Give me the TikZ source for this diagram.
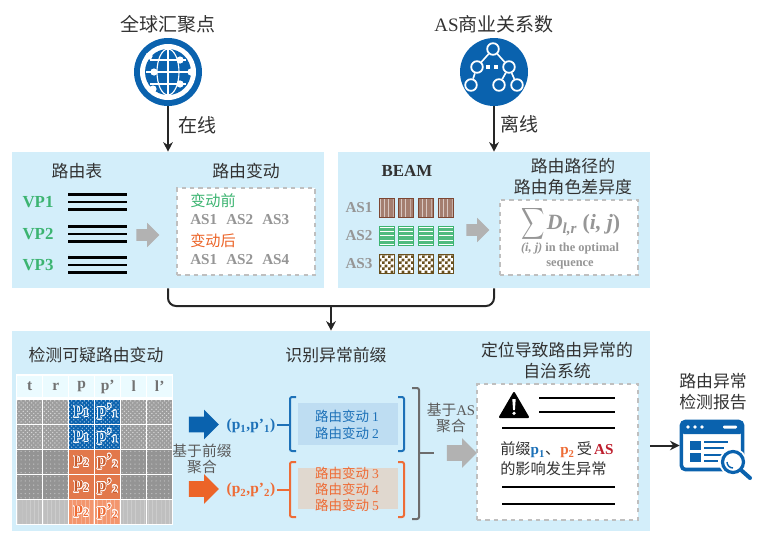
\documentclass[tikz,border=0pt]{standalone}
\usepackage{fontspec}
\usepackage[copies]{contour}
\setmainfont{Liberation Serif}
\newfontfamily\cjk{Noto Sans CJK SC}
\usetikzlibrary{arrows.meta,positioning,patterns,shapes.arrows,calc}
\definecolor{panelblue}{RGB}{211,238,250}
\definecolor{iconblue}{RGB}{10,98,174}
\definecolor{vpgreen}{RGB}{60,180,113}
\definecolor{changeorange}{RGB}{236,100,40}
\definecolor{labelgrey}{RGB}{150,150,150}
\definecolor{textdark}{RGB}{50,50,50}
\definecolor{prefixblue}{RGB}{29,113,184}
\definecolor{prefixorange}{RGB}{238,108,54}
\definecolor{blueback}{RGB}{190,221,242}
\definecolor{orangeback}{RGB}{224,216,207}
\definecolor{asred}{RGB}{190,30,45}
\definecolor{beambrown}{RGB}{125,70,50}
\definecolor{beamolive}{RGB}{105,80,30}
\definecolor{cellorange}{RGB}{226,120,75}
\definecolor{cellpale}{RGB}{243,150,110}
\contourlength{0.5pt}
\newcommand{\lat}[1]{{\rmfamily\bfseries #1}}
\pgfdeclarepatternformonly{finecheck}{\pgfpointorigin}{\pgfpoint{4pt}{4pt}}{\pgfpoint{4pt}{4pt}}{
    \pgfpathrectangle{\pgfpointorigin}{\pgfpoint{2pt}{2pt}}
    \pgfpathrectangle{\pgfpoint{2pt}{2pt}}{\pgfpoint{2pt}{2pt}}
    \pgfusepath{fill}
}

\begin{document}
\begin{tikzpicture}[
    x=0.25mm, y=-0.25mm,
    panel/.style={rectangle, fill=panelblue, inner sep=0pt},
    head/.style={font=\cjk\fontsize{12}{15}\selectfont, text=textdark, align=center},
    bighead/.style={font=\cjk\fontsize{13.5}{16}\selectfont, text=textdark, align=center},
    note/.style={font=\cjk\fontsize{10.5}{11.5}\selectfont, text=textdark!80, align=center},
    vplabel/.style={font=\rmfamily\bfseries\fontsize{12}{14}\selectfont, text=vpgreen},
    aslabel/.style={font=\rmfamily\bfseries\fontsize{10.8}{13}\selectfont, text=labelgrey},
    changehead/.style={font=\cjk\fontsize{10.8}{13}\selectfont, anchor=west, inner sep=0pt},
    dashbox/.style={rectangle, fill=white, draw=gray!50, dashed, thick, inner sep=0pt},
    flowarrow/.style={-{Stealth[length=2.4mm,width=2.4mm]}, line width=0.5mm, black!85},
    flowline/.style={line width=0.5mm, black!85},
    rulerow/.style={line width=0.55mm, black},
    greyarrow/.style={single arrow, fill=gray!60, inner sep=0pt, text height=2.75mm, text depth=0pt, single arrow head extend=1.6mm, minimum height=5.75mm},
    bigarrow/.style={single arrow, inner sep=0pt, text height=3.75mm, text depth=0pt, single arrow head extend=1.75mm, minimum height=7.5mm},
    beamcell/.style={rectangle, inner sep=0pt, minimum width=3.75mm, minimum height=4.75mm, line width=0.25mm},
    beamred/.style={beamcell, draw=beambrown, preaction={fill=beambrown!70}, pattern=vertical lines, pattern color=white!70!beambrown},
    beamgreen/.style={beamcell, draw=vpgreen, preaction={fill=vpgreen!90}, pattern=horizontal lines, pattern color=white},
    beamcheck/.style={beamcell, draw=beamolive, preaction={fill=white}, pattern=finecheck, pattern color=beamolive},
    cell/.style={rectangle, draw=white, line width=0.35mm, minimum width=6.5mm, minimum height=6.25mm, inner sep=0pt},
    headcell/.style={cell, minimum height=5.75mm, fill=blue!20!cyan!8, font=\rmfamily\bfseries\fontsize{11}{13}\selectfont, text=black!55},
    greyfine/.style={cell, preaction={fill=black!38}, pattern=crosshatch dots, pattern color=white!85!black},
    greydark/.style={cell, preaction={fill=black!42}, pattern=dots, pattern color=black!25},
    greylight/.style={cell, preaction={fill=black!25}, pattern=vertical lines, pattern color=white!80!black},
    bluecell/.style={cell, preaction={fill=iconblue}, pattern=crosshatch dots, pattern color=white!70!iconblue, text=iconblue},
    orangecell/.style={cell, fill=cellorange, text=prefixorange!85!black},
    orangepale/.style={cell, preaction={fill=cellpale}, pattern=vertical lines, pattern color=prefixorange!50, text=prefixorange},
    celltext/.style={font=\rmfamily\bfseries\fontsize{12}{14}\selectfont},
    prefixlabel/.style={font=\rmfamily\bfseries\fontsize{11}{13}\selectfont},
    groupback/.style={rectangle, inner sep=0pt, minimum width=25mm},
    grouptext/.style={font=\cjk\fontsize{9.6}{12}\selectfont, align=center},
    brace/.style={line width=0.5mm, rounded corners=0.5mm},
    treenode/.style={circle, draw=white, fill=iconblue, line width=0.45mm, minimum size=2.9mm, inner sep=0pt},
    treeedge/.style={draw=white, line width=0.4mm}
]
\useasboundingbox (0,0) rectangle (759,540);

% ============ sources ============
\node[bighead] (title-global) at (168,24) {全球汇聚点};
\node[bighead] (title-as) at (494,24) {{\rmfamily AS}商业关系数};
\node[circle, fill=iconblue, minimum size=17mm, inner sep=0pt] (globe) at (168,72) {};
\node[circle, fill=iconblue, minimum size=17mm, inner sep=0pt] (tree) at (494,72) {};

\fill[white] (168,72) circle (28);
\fill[iconblue] (168,72) circle (23);
\draw[white, thick] (168,49) -- (168,95);
\draw[white, thick] (168,72) ellipse (11 and 23);
\draw[white, thick] (146,72) -- (190,72);
\draw[white, thick] (150,60) -- (186,60);
\draw[white, thick] (150,84) -- (186,84);
\foreach \dx/\dy in {-19/-16,12/-12,-14/0,23/0,12/12,-15/17}
    \fill[white] ($(168,72)+(\dx,\dy)$) circle (3.6);

\node[treenode] (as-top) at (493,49) {};
\node[treenode] (as-left) at (477,67) {};
\node[treenode] (as-right) at (509,67) {};
\node[treenode] (as-a) at (471,85) {};
\node[treenode] (as-b) at (499,85) {};
\node[treenode] (as-c) at (517,85) {};
\draw[treeedge] (as-top) -- (as-left);
\draw[treeedge] (as-top) -- (as-right);
\draw[treeedge] (as-left) -- (as-a);
\draw[treeedge] (as-right) -- (as-b);
\draw[treeedge] (as-right) -- (as-c);
\fill[white] (486,65) rectangle (489.5,69);
\fill[white] (494,65) rectangle (497.5,69);

% ============ online panel ============
\node[panel, minimum width=78mm, minimum height=34mm] (panel-online) at (168,220) {};
\node[panel, minimum width=78mm, minimum height=34mm] (panel-beam) at (494,220) {};
\node[panel, minimum width=159.5mm, minimum height=50mm] (panel-detect) at (331,431) {};

\draw[flowarrow] (globe) -- (panel-online);
\draw[flowarrow] (tree) -- (tree |- panel-beam.north);
\node[bighead] (label-online) at (197,125) {在线};
\node[bighead] (label-offline) at (519,124) {离线};

\coordinate (merge) at (331,306);
\draw[flowline, rounded corners=2mm] (panel-online.south) |- (merge) -| (panel-beam.south);
\draw[flowarrow] (merge) -- (panel-detect.north);

\node[head] (title-table) at (77,171) {路由表};
\node[head] (title-change) at (246,171) {路由变动};

\foreach \vp/\yc in {1/202,2/234,3/265} {
    \node[vplabel] (vp\vp) at (38,\yc) {VP\vp};
    \foreach \dy in {-7.5,0,7.5}
        \draw[rulerow] (68,\yc+\dy) -- (127,\yc+\dy);
}
\node[greyarrow] (arrow-table) at (145,235) {};

\node[dashbox, minimum width=34.5mm, minimum height=21.75mm] (box-change) at (246,231.5) {};
\node[changehead, text=vpgreen] (before) at (190,201) {变动前};
\node[aslabel, anchor=west, inner sep=0pt] (before-as) at (190,220) {AS1\hspace{6.4pt}AS2\hspace{6.4pt}AS3};
\node[changehead, text=changeorange] (after) at (190,241) {变动后};
\node[aslabel, anchor=west, inner sep=0pt] (after-as) at (190,260) {AS1\hspace{6.4pt}AS2\hspace{6.4pt}AS4};

% ============ offline panel ============
\node[font=\rmfamily\bfseries\fontsize{12}{14}\selectfont, text=textdark] (title-beam) at (407,171) {BEAM};
\node[head] (title-role) at (573,177) {路由路径的\\路由角色差异度};

\node[aslabel] (as1) at (359,208) {AS1};
\node[aslabel] (as2) at (359,236) {AS2};
\node[aslabel] (as3) at (359,264) {AS3};
\foreach \xc [count=\i] in {386.5,405.5,425.5,445.5} {
    \node[beamred] (red-\i) at (\xc,207.5) {};
    \node[beamgreen] (green-\i) at (\xc,236) {};
    \node[beamcheck] (check-\i) at (\xc,263.5) {};
}
\node[greyarrow] (arrow-beam) at (475,230) {};

\node[dashbox, minimum width=34.5mm, minimum height=18.75mm] (box-role) at (569,237.5) {};
\node[text=labelgrey, inner sep=0pt] (sum-sign) at (533.5,224) {\scalebox{1.15}[1.57]{$\displaystyle\sum$}};
\node[font=\rmfamily\bfseries\itshape\fontsize{15.5}{18}\selectfont, text=labelgrey, inner sep=0pt] (sum-term) at (583.5,225) {D\textsubscript{l,r} {\upshape(}i, j{\upshape)}};
\node[font=\rmfamily\bfseries\fontsize{8.8}{10}\selectfont, text=labelgrey, align=center, inner sep=0pt] (sum-range) at (570,256) {{\itshape(i, j)} in the optimal\\sequence};

% ============ detection panel ============
\node[head] (title-suspect) at (96,355) {检测可疑路由变动};
\node[head] (title-prefix) at (336,355) {识别异常前缀};
\node[head] (title-locate) at (557,360.5) {定位导致路由异常的\\自治系统};

\foreach \xc/\hd [count=\i] in {29.7/t,55.7/r,81.7/p,107.7/p',133.7/l,159.7/l'}
    \node[headcell] (hd-\i) at (\xc,386.5) {\hd};

\foreach \yc/\rowid/\gs/\ps/\num in {412/1/greyfine/bluecell/1,437/2/greyfine/bluecell/1,462/3/greydark/orangecell/2,487/4/greydark/orangecell/2,512/5/greylight/orangepale/2} {
    \foreach \xc/\colid in {29.7/1,55.7/2,133.7/5,159.7/6}
        \node[\gs] (c-\rowid-\colid) at (\xc,\yc) {};
    \node[\ps, celltext] (c-\rowid-3) at (81.7,\yc) {\contour{white}{p\textsubscript{\num}}};
    \node[\ps, celltext] (c-\rowid-4) at (107.7,\yc) {\contour{white}{p'\textsubscript{\num}}};
}

\node[bigarrow, fill=iconblue] (arrow-p1) at (200,424.5) {};
\node[bigarrow, fill=changeorange] (arrow-p2) at (200,489) {};
\node[note] (note-prefix) at (202,459) {基于前缀\\聚合};

\node[prefixlabel, text=prefixblue, inner sep=1pt] (prefix-a) at (251,426) {(p\textsubscript{1},p'\textsubscript{1})};
\node[prefixlabel, text=prefixorange, inner sep=1pt] (prefix-b) at (251,490) {(p\textsubscript{2},p'\textsubscript{2})};
\coordinate (brace-a) at (290,424.5);
\coordinate (brace-b) at (290,489.5);
\draw[brace, prefixblue] (prefix-a.east |- brace-a) -- (brace-a);
\draw[brace, prefixorange] (prefix-b.east |- brace-b) -- (brace-b);

\node[groupback, fill=blueback, minimum height=10.5mm] (group-a) at (348,424) {};
\node[groupback, fill=orangeback, minimum height=10.25mm] (group-b) at (348,488.5) {};
\node[grouptext, text=prefixblue] (group-a-text) at (347,424.5) {路由变动 {\rmfamily 1}\\路由变动 {\rmfamily 2}};
\node[grouptext, text=prefixorange, font=\cjk\fontsize{9.6}{11.4}\selectfont] (group-b-text) at (347,489) {路由变动 {\rmfamily 3}\\路由变动 {\rmfamily 4}\\路由变动 {\rmfamily 5}};

\draw[brace, prefixblue] (296,397) -- (290,397) -- (290,451) -- (296,451);
\draw[brace, prefixblue] (398,397) -- (404,397) -- (404,451) -- (398,451);
\draw[brace, prefixorange] (296,462) -- (290,462) -- (290,517) -- (296,517);
\draw[brace, prefixorange] (398,462) -- (404,462) -- (404,517) -- (398,517);
\draw[brace, gray!85!black] (412,388) -- (419,388) -- (419,519) -- (412,519);

\coordinate (brace-c) at (419,453);
\coordinate (stub-c) at (434,453);
\draw[brace, gray!85!black] (brace-c) -- (stub-c);
\node[note] (note-as) at (451,418) {基于{\rmfamily AS}\\聚合};
\node[bigarrow, fill=gray!60] (arrow-as) at (458,453) {};

\node[dashbox, minimum width=40.25mm, minimum height=34mm] (box-alert) at (557.5,452) {};
\fill[black, draw=black, line width=0.5mm, line join=round] (514,393) -- (528,417) -- (500,417) -- cycle;
\fill[white] (512.3,399) -- (515.7,399) -- (514.9,410) -- (513.1,410) -- cycle;
\fill[white] (514,413.3) circle (1.8);
\draw[rulerow] (539,398) -- (615,398);
\draw[rulerow] (539,412) -- (615,412);
\draw[rulerow] (502,428) -- (615,428);
\draw[rulerow] (502,487) -- (615,487);
\draw[rulerow] (502,504) -- (615,504);
\node[font=\cjk\fontsize{10.8}{14.2}\selectfont, text=textdark, align=left, anchor=west, inner sep=0pt] (alert-text) at (500,459) {前缀\lat{\textcolor{prefixblue}{p\textsubscript{1}}}、\lat{\textcolor{prefixorange}{p\textsubscript{2}}}\hspace{1.5pt}受\hspace{1.5pt}\lat{\textcolor{asred}{AS}}\\的影响发生异常};

% ============ report ============
\node[head] (title-report) at (713,392) {路由异常\\检测报告};
\node[rectangle, fill=white, draw=iconblue, line width=0.9mm, rounded corners=1mm, minimum width=15.3mm, minimum height=12mm, inner sep=0pt] (report-window) at (712,445.5) {};
\draw[flowarrow] (panel-detect.east |- report-window.west) -- (report-window.west);

\fill[iconblue, rounded corners=0.8mm] (681,421) rectangle (743,434);
\foreach \xc in {688,695,702}
    \fill[white] (\xc,427) circle (1.8);
\fill[white, rounded corners=0.3mm] (723,425.5) rectangle (737,428.5);
\fill[iconblue] (690,441) rectangle (701,450);
\fill[iconblue] (690,453) rectangle (701,462);
\foreach \yc/\xe in {442/728,448/724,455/722,461/718}
    \draw[iconblue, line width=0.45mm] (704,\yc) -- (\xe,\yc);
\fill[white] (733,462) circle (14);
\draw[iconblue, line width=0.8mm] (733,462) circle (10.5);
\draw[iconblue, line width=0.35mm] (727,462) arc (180:90:6);
\draw[iconblue, line width=1mm, line cap=round] (741,470) -- (750,478);

\end{tikzpicture}
\end{document}
